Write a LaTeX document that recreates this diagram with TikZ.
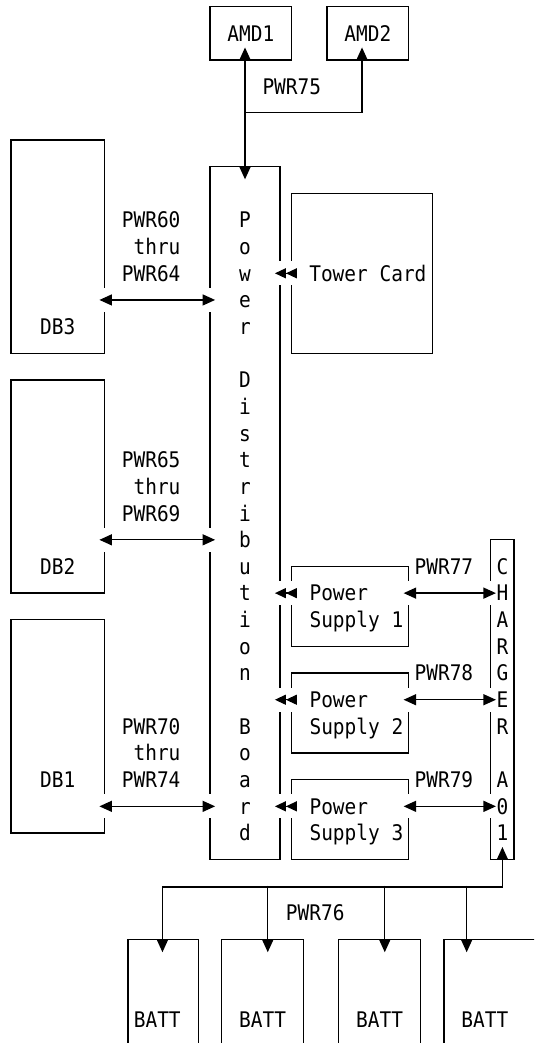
\documentclass[tikz,border=0pt]{standalone}
\usepackage{fontspec}
\usepackage{tikz}
\usetikzlibrary{positioning,arrows.meta,calc,fit}
\newfontfamily\ibmmono[FakeStretch=0.905]{DejaVu Sans Mono}
\newcommand{\diagfont}{\ibmmono\fontsize{21.5pt}{26.65pt}\selectfont}
\tikzset{
  >={Triangle[length=12.5pt,width=11pt]},
  unit-node/.style={draw, line width=1.3pt, inner sep=0pt},
  label-text/.style={font=\diagfont, inner sep=0pt, text height=15.7pt, text depth=0pt},
  link-arrow/.style={<->, line width=1.3pt, shorten <=-5.85pt, shorten >=-5.85pt,
    preaction={draw=white, line width=24pt, -}},
  plug-arrow/.style={-{Triangle[length=11pt,width=10pt,sep=0pt] Triangle[length=11pt,width=10pt]},
    line width=1.3pt, shorten <=-5.85pt, shorten >=-5.85pt,
    preaction={draw=white, line width=24pt, -}},
  feed-arrow/.style={->, line width=1.3pt, shorten >=-13.3pt}
}

\begin{document}
\begin{tikzpicture}[x=11.7pt, y=-26.65pt]
\useasboundingbox (-0.94,-0.255) rectangle (44.70,38.88);
\clip (-0.94,-0.255) rectangle (44.70,38.88);

% boards and cards
\node[unit-node, fit={(17,0) (24,2)}] (amd1) {};
\node[unit-node, fit={(27,0) (34,2)}] (amd2) {};
\node[unit-node, fit={(17,6) (23,32)}] (pdb) {};
\node[unit-node, fit={(24,7) (36,13)}] (tower) {};
\node[unit-node, fit={(41,20) (43,32)}] (chg) {};
\node[label-text] (amd1-t) at (20.5,1) {AMD1};
\node[label-text] (amd2-t) at (30.5,1) {AMD2};
\node[label-text] (pwr75) at (24,3) {PWR75};
\node[label-text] (tower-t) at (30.5,10) {Tower Card};

% vertical lettering
\foreach \lt [count=\i from 8] in {P,o,w,e,r,{},D,i,s,t,r,i,b,u,t,i,o,n,{},B,o,a,r,d}
  \node[label-text] (pdb-\i) at (20,\i) {\lt};
\foreach \lt [count=\i from 21] in {C,H,A,R,G,E,R,{},A,0,1}
  \node[label-text] (chg-\i) at (42,\i) {\lt};

% PWR75
\coordinate (j75) at ($(pdb.north)+(0,-2)$);
\draw[feed-arrow, <->, shorten <=-13.3pt] (amd1.south -| pdb.north) -- (pdb.north);
\draw[feed-arrow] (j75) -| ([xshift=-5.85pt]amd2.south);

\draw[plug-arrow] (tower.west |- tower-t) -- (pdb.east |- tower-t);

% drawer boards
\foreach \n/\yt/\ytx/\ya/\yl/\lo/\hi in {3/5/12/11/8/60/64, 2/14/21/20/17/65/69, 1/23/29/30/27/70/74}{
  \node[unit-node, fit={(0,\yt) (8,\yt+8)}] (db\n) {};
  \node[label-text] (db\n-t) at (4,\ytx) {DB\n};
  \node[label-text, anchor=east] (pwr\lo) at (14.5,\yl) {PWR\lo};
  \node[label-text, anchor=east] (thru\n) at (14.5,\yl+1) {thru};
  \node[label-text, anchor=east] (pwr\hi) at (14.5,\yl+2) {PWR\hi};
  \draw[link-arrow] (db\n.east |- pdb-\ya) -- (pdb.west |- pdb-\ya);
}

% power supplies
\foreach \n/\y/\p in {1/21/77, 2/25/78, 3/29/79}{
  \node[unit-node, fit={(24,\y) (34,\y+3)}] (ps\n) {};
  \node[label-text, anchor=west] (ps\n-a) at (25.5,\y+1) {Power};
  \node[label-text, anchor=west] (ps\n-b) at (25.5,\y+2) {Supply \n};
  \node[label-text] (pwr\p) at (37,\y) {PWR\p};
  \draw[plug-arrow] (ps\n.west |- ps\n-a) -- (pdb.east |- ps\n-a);
  \draw[link-arrow] (ps\n.east |- ps\n-a) -- (chg.west |- ps\n-a);
}

% batteries
\foreach \n/\x/\w/\tx in {1/10/6/2.5, 2/18/7/3.5, 3/28/7/3.5, 4/37/10/3.5}{
  \node[unit-node, fit={(\x,35) (\x+\w,40)}] (batt\n) {};
  \node[label-text] (batt\n-t) at (\x+\tx,38) {BATT};
}
\node[label-text] (pwr76) at (26,34) {PWR76};
\coordinate (j76) at ($(chg.south)+(0,1)$);
\draw[feed-arrow, <->, shorten <=-13.3pt] (chg.south) -- (j76) -| ($(batt1.north west)+(3,0)$);
\foreach \n/\dx in {2/4, 3/4, 4/2}
  \draw[feed-arrow] ($(batt\n.north west)+(\dx,-2)$) -- ($(batt\n.north west)+(\dx,0)$);
\end{tikzpicture}
\end{document}
